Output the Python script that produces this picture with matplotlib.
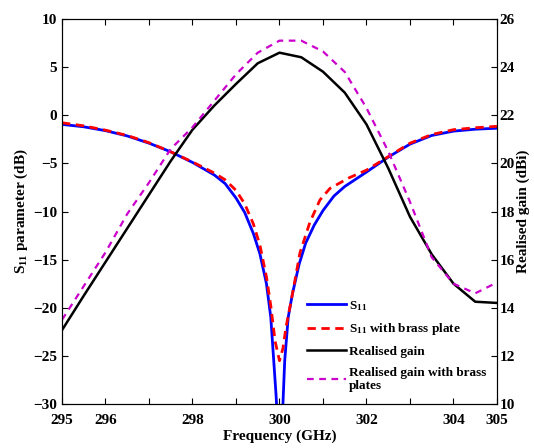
import matplotlib.pyplot as plt
from matplotlib.ticker import MultipleLocator

# S11 data (GHz, dB)
f_s11 = [295.0, 295.5, 296.0, 296.5, 297.0, 297.5, 298.0, 298.5, 298.75, 299.0,
         299.2, 299.4, 299.55, 299.7, 299.8, 299.86, 299.92, 299.97, 300.02,
         300.07, 300.12, 300.2, 300.3, 300.45, 300.6, 300.8, 301.0, 301.25,
         301.5, 302.0, 302.5, 303.0, 303.5, 304.0, 304.5, 305.0]
s11 = [-0.95, -1.2, -1.6, -2.15, -2.9, -3.8, -4.9, -6.2, -7.1, -8.6,
       -10.1, -12.3, -14.4, -17.5, -21.0, -25.0, -29.0, -33.0, -36.0,
       -31.0, -25.5, -21.0, -18.5, -15.5, -13.3, -11.4, -9.9, -8.4,
       -7.4, -5.9, -4.35, -3.0, -2.1, -1.65, -1.45, -1.35]

f_s11_brass = [295.0, 295.5, 296.0, 296.5, 297.0, 297.5, 298.0, 298.5, 298.75,
               299.0, 299.2, 299.4, 299.55, 299.7, 299.8, 299.9, 300.0, 300.08,
               300.15, 300.28, 300.47, 300.7, 300.93, 301.16, 301.6, 302.0,
               302.5, 303.0, 303.5, 304.0, 304.5, 305.0]
s11_brass = [-0.78, -1.1, -1.55, -2.1, -2.85, -3.8, -4.85, -6.0, -6.7,
             -7.8, -9.2, -11.3, -13.5, -16.8, -19.8, -23.5, -25.5, -24.2,
             -22.0, -19.0, -14.3, -11.1, -8.8, -7.6, -6.5, -5.7,
             -4.3, -2.9, -2.0, -1.5, -1.3, -1.15]

# Realised gain (dBi)
f_gain = [295.0, 295.5, 296.0, 296.5, 297.0, 297.5, 298.0, 298.5, 299.0, 299.5,
          300.0, 300.5, 301.0, 301.5, 302.0, 302.5, 303.0, 303.5, 304.0, 304.5, 305.0]
gain = [13.07, 14.5, 15.9, 17.3, 18.7, 20.1, 21.4, 22.4, 23.3, 24.16,
        24.6, 24.41, 23.81, 22.94, 21.62, 19.8, 17.78, 16.22, 15.0, 14.25, 14.2]
gain_brass = [13.5, 14.9, 16.3, 17.9, 19.2, 20.6, 21.5, 22.6, 23.7, 24.6,
              25.1, 25.1, 24.65, 23.8, 22.3, 20.5, 18.4, 16.1, 15.0, 14.6, 15.05]

x_ticks = list(range(295, 306))
x_labels = ['295', '296', '', '298', '', '300', '', '302', '', '304', '305']

plt.rcParams['font.family'] = 'Liberation Serif'
plt.rcParams['font.weight'] = 'bold'
plt.rcParams['mathtext.fontset'] = 'custom'
plt.rcParams['mathtext.rm'] = 'Liberation Serif:bold'
plt.rcParams['mathtext.it'] = 'Liberation Serif:bold'
plt.rcParams['mathtext.default'] = 'regular'

fig = plt.figure(figsize=(5.34, 4.48), dpi=100)
ax = fig.add_axes([0.1161, 0.0982, 0.8146, 0.8594])
ax2 = ax.twinx()

l1, = ax.plot(f_s11, s11, color='#0000ff', lw=2, label='S$_{11}$')
l2, = ax.plot(f_s11_brass, s11_brass, color='#ff0000', lw=2, ls=(0, (3, 2)),
              label='S$_{11}$ with brass plate')
l3, = ax2.plot(f_gain, gain, color='black', lw=1.8, label='Realised gain')
l4, = ax2.plot(f_gain, gain_brass, color='#cc00cc', lw=1.6, ls=(0, (3, 2.5)),
               label='Realised gain with brass\nplates')

ax.set_xlim(295, 305)
ax.set_ylim(-30, 10)
ax2.set_ylim(10, 26)
ax.set_xticks(x_ticks)
ax.set_xticklabels(x_labels)
ax.yaxis.set_major_locator(MultipleLocator(5))
ax2.yaxis.set_major_locator(MultipleLocator(2))

ax.tick_params(direction='in', top=True, labelsize=11, length=4, width=0.8)
ax.tick_params(axis='x', pad=7)
ax2.tick_params(direction='in', labelsize=11, length=4, width=0.8, pad=2)
for lab in ax.get_xticklabels() + ax.get_yticklabels() + ax2.get_yticklabels():
    lab.set_fontweight('bold')

ax.set_xlabel('Frequency (GHz)', fontsize=11, fontweight='bold', labelpad=2)
ax.set_ylabel('S$_{11}$ parameter (dB)', fontsize=11, fontweight='bold', labelpad=2)
ax2.set_ylabel('Realised gain (dBi)', fontsize=11, fontweight='bold', labelpad=1)

ax.legend(handles=[l1, l2, l3, l4], loc='upper left', bbox_to_anchor=(0.55, 0.287),
          frameon=False, fontsize=9.5, handlelength=3.0, handletextpad=0.2,
          labelspacing=0.65, borderaxespad=0)

plt.savefig('out.png', dpi=100)
